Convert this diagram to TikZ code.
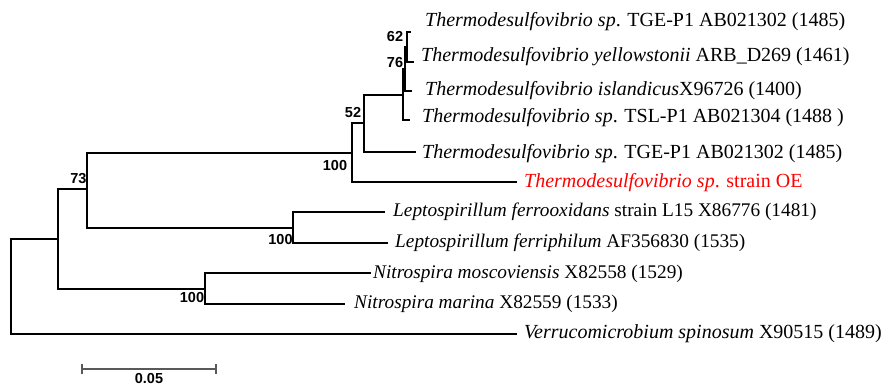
\documentclass[tikz,border=0pt]{standalone}
\usepackage{fontspec}
\setmainfont{Liberation Serif}
\setsansfont{Liberation Sans}
\begin{document}
\begin{tikzpicture}[x=1pt,y=-1pt,
  branch/.style={line width=1.4pt,black},
  taxon/.style={anchor=west,inner sep=0pt,font=\fontsize{20}{24}\selectfont},
  taxonn/.style={anchor=west,inner sep=0pt,font=\fontsize{19.3}{23}\selectfont},
  boot/.style={inner sep=0pt,font=\sffamily\bfseries\fontsize{14.5}{16}\selectfont},
  scalebar/.style={line width=1.8pt,black!65}]
\useasboundingbox (0,0) rectangle (887,385);
% internal nodes
\coordinate (root) at (11,286.5);
\coordinate (n1) at (58,239);
\coordinate (n73) at (87,189);
\coordinate (nT) at (352,153);
\coordinate (n52) at (364,123);
\coordinate (nA) at (403,95);
\coordinate (nB) at (405,69);
\coordinate (nC) at (407,47);
\coordinate (nL) at (293,228);
\coordinate (nN) at (205,289);
% leaf ends
\coordinate (e1) at (411,32);
\coordinate (e2) at (414,62);
\coordinate (e3) at (412,91);
\coordinate (e4) at (410,120);
\coordinate (e5) at (416,152);
\coordinate (e6) at (517,182);
\coordinate (e7) at (385,212);
\coordinate (e8) at (388,243);
\coordinate (e9) at (371,273);
\coordinate (e10) at (345,304);
\coordinate (e11) at (517,334);
% branches
\draw[branch] (root) |- (n1);
\draw[branch] (root) |- (e11);
\draw[branch] (n1) |- (n73);
\draw[branch] (n1) |- (nN);
\draw[branch] (n73) |- (nT);
\draw[branch] (n73) |- (nL);
\draw[branch] (nT) |- (n52);
\draw[branch] (nT) |- (e6);
\draw[branch] (n52) |- (nA);
\draw[branch] (n52) |- (e5);
\draw[branch] (nA) |- (nB);
\draw[branch] (nA) |- (e4);
\draw[branch] (nB) |- (nC);
\draw[branch] (nB) |- (e3);
\draw[branch] (nC) |- (e1);
\draw[branch] (nC) |- (e2);
\draw[branch] (nL) |- (e7);
\draw[branch] (nL) |- (e8);
\draw[branch] (nN) |- (e9);
\draw[branch] (nN) |- (e10);
% taxa
\node[taxon] (t1) at (425,22) {\textit{Thermodesulfovibrio sp}. TGE-P1 AB021302 (1485)};
\node[taxon] (t2) at (421,57) {\textit{Thermodesulfovibrio yellowstonii} ARB\_D269 (1461)};
\node[taxon] (t3) at (425,91) {\textit{Thermodesulfovibrio islandicus}X96726 (1400)};
\node[taxon] (t4) at (422,118) {\textit{Thermodesulfovibrio sp}. TSL-P1 AB021304 (1488 )};
\node[taxon] (t5) at (422,154) {\textit{Thermodesulfovibrio sp}. TGE-P1 AB021302 (1485)};
\node[taxon,text=red] (t6) at (524,183) {\textit{Thermodesulfovibrio sp}. strain OE};
\node[taxonn] (t7) at (393,212) {\textit{Leptospirillum ferrooxidans} strain L15 X86776 (1481)};
\node[taxonn] (t8) at (395,243) {\textit{Leptospirillum ferriphilum} AF356830 (1535)};
\node[taxonn] (t9) at (373,274) {\textit{Nitrospira moscoviensis} X82558 (1529)};
\node[taxonn] (t10) at (354,304) {\textit{Nitrospira marina} X82559 (1533)};
\node[taxon] (t11) at (524,334) {\textit{Verrucomicrobium spinosum} X90515 (1489)};
% bootstrap values
\node[boot] (b62) at (395,36.5) {62};
\node[boot] (b76) at (395,62.5) {76};
\node[boot] (b52) at (353,113) {52};
\node[boot] (b100a) at (335,166) {100};
\node[boot] (b73) at (78.5,179) {73};
\node[boot] (b100b) at (280.5,239.5) {100};
\node[boot] (b100c) at (192,298) {100};
% scale bar
\coordinate (s1) at (82,369);
\coordinate (s2) at (216,369);
\draw[scalebar] (s1) -- (s2);
\draw[scalebar,line width=1.2pt] ([yshift=-5pt]s1) -- ([yshift=5pt]s1);
\draw[scalebar,line width=1.2pt] ([yshift=-5pt]s2) -- ([yshift=5pt]s2);
\node[boot,anchor=base] (sl) at (149,383.5) {0.05};
\end{tikzpicture}
\end{document}
